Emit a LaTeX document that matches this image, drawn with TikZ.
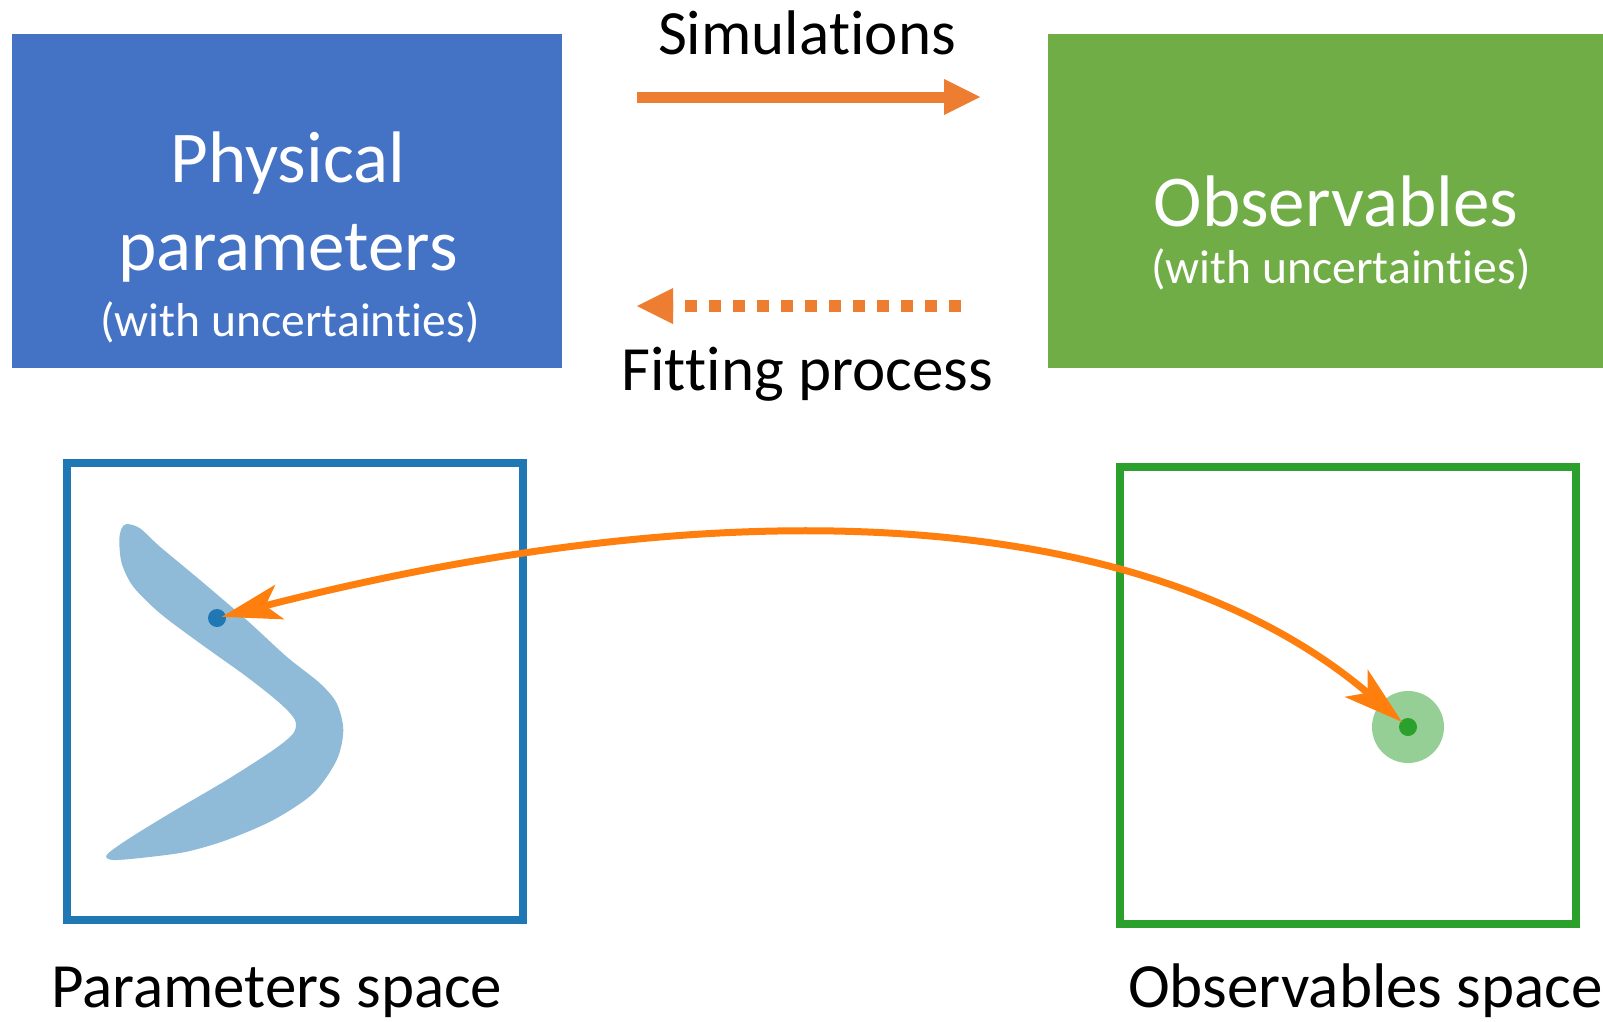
\documentclass[tikz,border=0pt]{standalone}
\usepackage{fontspec}
\setmainfont{Carlito}[Ligatures={NoCommon,NoContextual},RawFeature={-liga;-clig;-calt;-dlig}]
\usetikzlibrary{arrows.meta}
\newcommand{\nolig}{\kern0pt }
\definecolor{boxblue}{HTML}{4472C4}
\definecolor{boxgreen}{HTML}{70AD47}
\definecolor{arrorange}{HTML}{ED7D31}
\definecolor{tabblue}{HTML}{1F77B4}
\definecolor{tabgreen}{HTML}{2CA02C}
\definecolor{taborange}{HTML}{FF7F0E}
\definecolor{regionblue}{HTML}{8FBBD9}
\definecolor{regiongreen}{HTML}{95CF95}
\tikzset{
  bigbox/.style={anchor=north west, inner sep=0pt, outer sep=0pt, minimum width=550pt, minimum height=334pt},
  bigtxt/.style={anchor=base, inner sep=0pt, text=white, font=\fontsize{73}{88}\selectfont},
  subtxt/.style={anchor=base, inner sep=0pt, text=white, font=\fontsize{47.6}{57}\selectfont},
  lbltxt/.style={anchor=base, inner sep=0pt, text=black, font=\fontsize{63}{76}\selectfont},
  spacebox/.style={draw, line width=8pt, inner sep=0pt, minimum width=456pt, minimum height=457pt},
  dotnode/.style={circle, inner sep=0pt, minimum size=18pt},
  simarrow/.style={draw=arrorange, line width=11pt, -{Triangle[length=36pt,width=36pt,line width=0pt]}},
  fitarrow/.style={draw=arrorange, line width=12pt, dash pattern=on 12pt off 12pt, -{Triangle[length=36pt,width=36pt,line width=0pt]}},
  maparrow/.style={draw=taborange, line width=7pt,
    {Stealth[length=60pt,width=36pt,inset=15pt,line width=0pt]}-{Stealth[length=60pt,width=36pt,inset=15pt,line width=0pt]}}
}
\begin{document}
\begin{tikzpicture}[x=1pt,y=-1pt]
\useasboundingbox (0,0) rectangle (1603,1021);
% top boxes
\node[bigbox, fill=boxblue] (phys) at (12,34) {};
\node[bigbox, fill=boxgreen, minimum width=560pt] (obs) at (1048,34) {};
\node[bigtxt] (physA) at (288,182) {Physical};
\node[bigtxt] (physB) at (288,270) {parameters};
\node[subtxt] (physC) at (290,336) {(with uncer\nolig tain\nolig ties)};
\node[bigtxt] (obsA) at (1336,226) {Observables};
\node[subtxt] (obsB) at (1341,283) {(with uncer\nolig tain\nolig ties)};
% arrows between boxes
\node[lbltxt] (simlbl) at (807,54) {Simula\nolig tions};
\coordinate (simA) at (637,97);
\coordinate (simB) at (980,97);
\draw[simarrow] (simA) -- (simB);
\coordinate (fitA) at (961,306);
\coordinate (fitB) at (637,306);
\draw[fitarrow] (fitA) -- (fitB);
\node[lbltxt] (fitlbl) at (807,390) {Fit\nolig t\nolig ing process};
% lower spaces
\node[spacebox, draw=tabblue, anchor=north] (pspace) at (295,459) {};
\node[spacebox, draw=tabgreen, anchor=north] (ospace) at (1347.75,462.5) {};
\fill[regionblue] plot[smooth cycle, tension=0.5] coordinates {
 (126.7,524) (140,528.3) (160,546.7) (200,580) (246.7,620) (286.7,656.7) (320,683.3)
 (336.7,703.3) (343.3,730) (336.7,760) (313.3,793.3) (273.3,820) (226.7,840)
 (186.7,851.7) (146.7,857.3) (113.3,860) (106.7,855) (126.7,840) (170,813.3)
 (226.7,780) (273.3,750) (293.3,733.3) (295,720) (280,703.3) (246.7,676.7)
 (200,643.3) (160,613.3) (133.3,586.7) (121.7,563.3) (119.3,540) (121.7,528.3)};
\node[dotnode, fill=tabblue] (bdot) at (217,618) {};
\node[circle, inner sep=0pt, minimum size=72pt, fill=regiongreen] (ghalo) at (1408,727) {};
\node[dotnode, fill=tabgreen] (gdot) at (1408,727) {};
\coordinate (ctrlA) at (1158,515.7);
\coordinate (ctrlB) at (761,479.3);
\draw[maparrow, shorten <=8pt, shorten >=5pt] (gdot.center) .. controls (ctrlA) and (ctrlB) .. (bdot.center);
\node[lbltxt, anchor=base west] (plbl) at (51,1007) {Parameters space};
\node[lbltxt, anchor=base west] (olbl) at (1128,1007) {Observables space};
\end{tikzpicture}
\end{document}
